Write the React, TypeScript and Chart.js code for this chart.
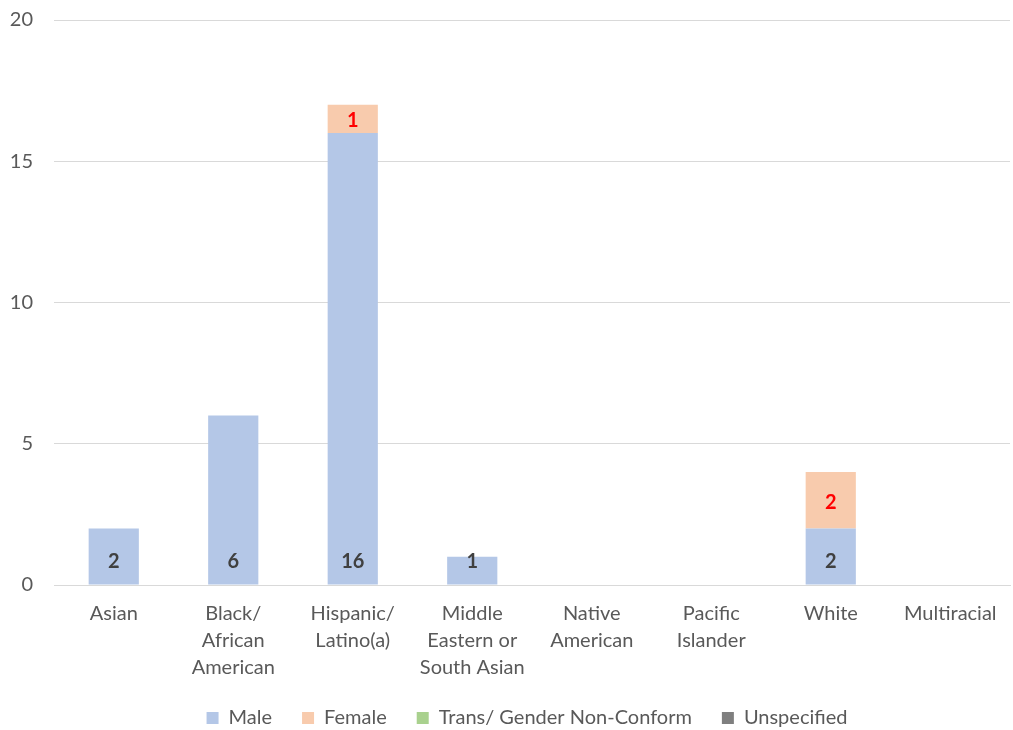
import React, { useEffect, useRef } from "react";
import { Chart, registerables } from "chart.js";

Chart.register(...registerables);

const categories: (string | string[])[] = [
  "Asian",
  ["Black/", "African", "American"],
  ["Hispanic/", "Latino(a)"],
  ["Middle", "Eastern or", "South Asian"],
  ["Native", "American"],
  ["Pacific", "Islander"],
  "White",
  "Multiracial",
];

const maleValues = [2, 6, 16, 1, 0, 0, 2, 0];
const femaleValues = [0, 0, 1, 0, 0, 0, 2, 0];
const transValues = [0, 0, 0, 0, 0, 0, 0, 0];
const unspecifiedValues = [0, 0, 0, 0, 0, 0, 0, 0];

const yTicks = [0, 5, 10, 15, 20];

const FONT = "Lato, 'Open Sans', sans-serif";

// Value labels: male counts sit near the bar base, female counts in the segment centre.
const valueLabels = {
  id: "valueLabels",
  afterDatasetsDraw(chart: any) {
    const ctx = chart.ctx;
    ctx.save();
    ctx.font = `bold 20px ${FONT}`;
    ctx.textAlign = "center";
    ctx.textBaseline = "middle";
    chart.data.datasets.forEach((ds: any, di: number) => {
      const meta = chart.getDatasetMeta(di);
      if (meta.hidden) return;
      meta.data.forEach((el: any, i: number) => {
        const v = ds.data[i];
        if (!v) return;
        if (di === 0) {
          ctx.fillStyle = "#404040";
          ctx.fillText(String(v), el.x, el.base - 23);
        } else if (di === 1) {
          ctx.fillStyle = "#FF0000";
          ctx.fillText(String(v), el.x, (el.y + el.base) / 2 + 2);
        }
      });
    });
    ctx.restore();
  },
};

// Nudges the legend row a little to the right of centre.
const legendShift = {
  id: "legendShift",
  afterLayout(chart: any) {
    const lg = chart.legend;
    if (!lg) return;
    lg.left += 22;
    lg.right += 22;
  },
};

export default function App() {
  const canvasRef = useRef<HTMLCanvasElement>(null);

  useEffect(() => {
    if (!canvasRef.current) return;
    const chart = new Chart(canvasRef.current, {
      type: "bar",
      data: {
        labels: categories as any,
        datasets: [
          { label: "Male", data: maleValues, backgroundColor: "#B4C7E7" },
          { label: "Female", data: femaleValues, backgroundColor: "#F8CBAD" },
          { label: "Trans/ Gender Non-Conform", data: transValues, backgroundColor: "#A9D18E" },
          { label: "Unspecified", data: unspecifiedValues, backgroundColor: "#7F7F7F" },
        ],
      },
      options: {
        animation: false,
        responsive: true,
        maintainAspectRatio: false,
        layout: { padding: { top: 20, right: 3, left: 0, bottom: 0 } },
        datasets: {
          bar: { categoryPercentage: 1, barPercentage: 0.42 },
        },
        scales: {
          x: {
            stacked: true,
            grid: { display: false, drawTicks: false },
            border: { display: true, color: "#D9D9D9", width: 1 },
            ticks: {
              color: "#595959",
              font: { family: FONT, size: 20, lineHeight: 1.35 },
              padding: 15,
              maxRotation: 0,
              autoSkip: false,
            },
            afterFit(s: any) {
              s.height = 93;
            },
          },
          y: {
            stacked: true,
            min: 0,
            max: 20,
            afterBuildTicks(s: any) {
              s.ticks = yTicks.map((v) => ({ value: v }));
            },
            grid: { color: "#D9D9D9", drawTicks: false },
            border: { display: false },
            ticks: {
              color: "#595959",
              font: { family: FONT, size: 20 },
              padding: 21,
            },
            afterFit(s: any) {
              s.width = 54;
              s.paddingTop = 0;
              s.paddingBottom = 0;
            },
          },
        },
        plugins: {
          legend: {
            position: "bottom",
            labels: {
              color: "#595959",
              font: { family: FONT, size: 20 },
              boxWidth: 12,
              boxHeight: 12,
              padding: 30,
            },
          },
          tooltip: { enabled: false },
        },
      },
      plugins: [valueLabels, legendShift],
    });
    return () => chart.destroy();
  }, []);

  return (
    <div style={{ position: "fixed", left: 0, top: 0, width: 1013, height: 738, background: "#fff" }}>
      <canvas ref={canvasRef} />
    </div>
  );
}
